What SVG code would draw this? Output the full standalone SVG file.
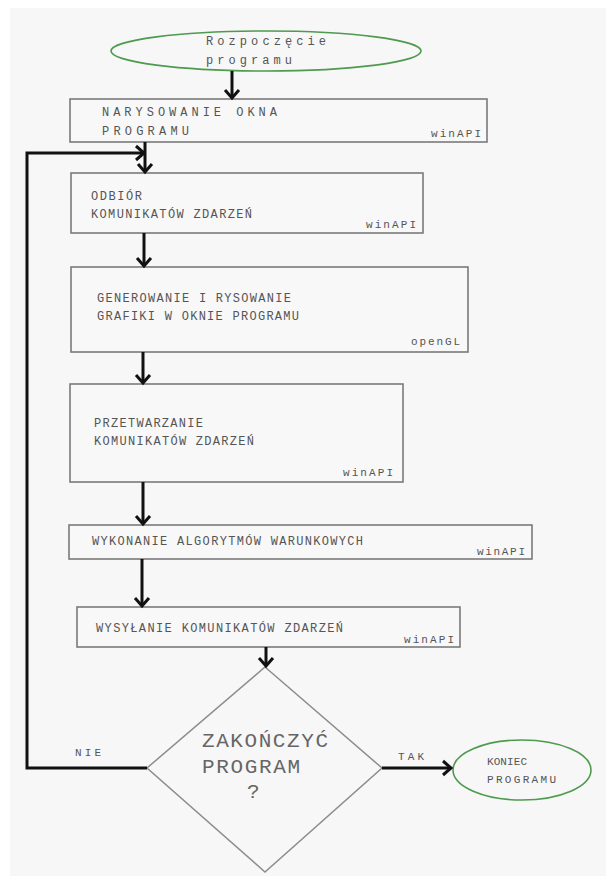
<svg xmlns="http://www.w3.org/2000/svg" width="606" height="876" viewBox="0 0 606 876">
<defs>
<marker id="arr" markerUnits="userSpaceOnUse" markerWidth="20" markerHeight="20" viewBox="-10 -10 20 20" refX="0" refY="0" orient="auto">
<path d="M-8,-7 L0,0 L-8,7" fill="none" stroke="#111" stroke-width="3"/>
</marker>
</defs>
<style>
.box{fill:#f8f8f8;stroke:#7a7a7a;stroke-width:1.6}
.oval{fill:none;stroke:#4e9a4e;stroke-width:1.6}
.dia{fill:none;stroke:#8c8c8c;stroke-width:1.5}
.t{font-family:"Liberation Mono","DejaVu Sans Mono",monospace;font-size:12px;fill:#555}
.s{font-family:"Liberation Mono","DejaVu Sans Mono",monospace;font-size:11px;fill:#555}
.big{font-family:"Liberation Mono","DejaVu Sans Mono",monospace;font-size:21px;fill:#666}
.c{fill:none;stroke:#111;stroke-width:3}
</style>
<rect x="10" y="8" width="596" height="868" fill="#f7f7f7"/>
<g id="start">
<ellipse class="oval" cx="266" cy="51" rx="155" ry="20"/>
<text class="t" x="206" y="45" font-size="14" textLength="120" lengthAdjust="spacing">Rozpoczęcie</text>
<text class="t" x="206" y="64" font-size="14" textLength="86" lengthAdjust="spacing">programu</text>
</g>
<g id="box1">
<rect class="box" x="70" y="99" width="417" height="43"/>
<text class="t" x="102" y="116" textLength="175" lengthAdjust="spacing">NARYSOWANIE OKNA</text>
<text class="t" x="102" y="135" textLength="87" lengthAdjust="spacing">PROGRAMU</text>
<text class="s" x="431" y="137" textLength="50" lengthAdjust="spacing">winAPI</text>
</g>
<g id="box2">
<rect class="box" x="71" y="173" width="352" height="60"/>
<text class="t" x="91" y="200" textLength="51" lengthAdjust="spacing">ODBIÓR</text>
<text class="t" x="91" y="218" textLength="161" lengthAdjust="spacing">KOMUNIKATÓW ZDARZEŃ</text>
<text class="s" x="366" y="228" textLength="50" lengthAdjust="spacing">winAPI</text>
</g>
<g id="box3">
<rect class="box" x="71" y="267" width="397" height="85"/>
<text class="t" x="97" y="302" textLength="194" lengthAdjust="spacing">GENEROWANIE I RYSOWANIE</text>
<text class="t" x="97" y="320" textLength="202" lengthAdjust="spacing">GRAFIKI W OKNIE PROGRAMU</text>
<text class="s" x="411" y="345" textLength="49" lengthAdjust="spacing">openGL</text>
</g>
<g id="box4">
<rect class="box" x="70" y="384" width="333" height="98"/>
<text class="t" x="94" y="427" textLength="109" lengthAdjust="spacing">PRZETWARZANIE</text>
<text class="t" x="94" y="445" textLength="160" lengthAdjust="spacing">KOMUNIKATÓW ZDARZEŃ</text>
<text class="s" x="343" y="476" textLength="50" lengthAdjust="spacing">winAPI</text>
</g>
<g id="box5">
<rect class="box" x="69" y="525" width="463" height="34"/>
<text class="t" x="92" y="545" textLength="271" lengthAdjust="spacing">WYKONANIE ALGORYTMÓW WARUNKOWYCH</text>
<text class="s" x="477" y="555" textLength="48" lengthAdjust="spacing">winAPI</text>
</g>
<g id="box6">
<rect class="box" x="77" y="607" width="383" height="40"/>
<text class="t" x="96" y="632" textLength="247" lengthAdjust="spacing">WYSYŁANIE KOMUNIKATÓW ZDARZEŃ</text>
<text class="s" x="404" y="643" textLength="50" lengthAdjust="spacing">winAPI</text>
</g>
<g id="decision">
<polygon class="dia" points="265,667 382,768 265,872 147,768"/>
<text class="big" x="202" y="747" textLength="126" lengthAdjust="spacing">ZAKOŃCZYĆ</text>
<text class="big" x="202" y="773" textLength="98" lengthAdjust="spacing">PROGRAM</text>
<text class="big" x="247" y="798">?</text>
</g>
<g id="end">
<ellipse class="oval" cx="522" cy="770" rx="69" ry="30"/>
<text class="s" x="487" y="765" font-size="10" textLength="40" lengthAdjust="spacing">KONIEC</text>
<text class="s" x="487" y="783" font-size="10" textLength="69" lengthAdjust="spacing">PROGRAMU</text>
</g>
<g id="connectors">
<line class="c" x1="232" y1="71" x2="232" y2="98" marker-end="url(#arr)"/>
<line class="c" x1="145" y1="142" x2="145" y2="172" marker-end="url(#arr)"/>
<polyline class="c" points="147,768 27,768 27,153 144,153" marker-end="url(#arr)"/>
<line class="c" x1="144" y1="233" x2="144" y2="266" marker-end="url(#arr)"/>
<line class="c" x1="143" y1="352" x2="143" y2="383" marker-end="url(#arr)"/>
<line class="c" x1="143" y1="482" x2="143" y2="524" marker-end="url(#arr)"/>
<line class="c" x1="142" y1="559" x2="142" y2="606" marker-end="url(#arr)"/>
<line class="c" x1="266" y1="647" x2="266" y2="666" marker-end="url(#arr)"/>
<line class="c" x1="382" y1="768" x2="451" y2="768" marker-end="url(#arr)"/>
<text class="s" x="75" y="756" textLength="26" lengthAdjust="spacing">NIE</text>
<text class="s" x="398" y="760" textLength="26" lengthAdjust="spacing">TAK</text>
</g>
</svg>
